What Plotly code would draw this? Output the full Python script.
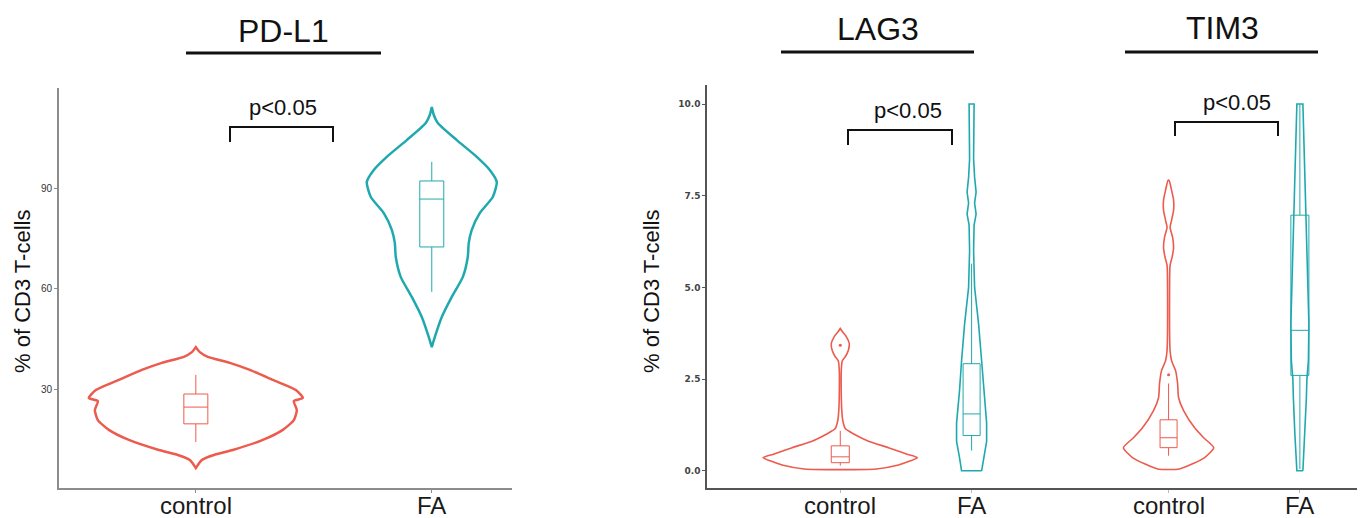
import plotly.graph_objects as go

W, H = 1363, 518

# ---------------- data ----------------
groups = ["control", "FA"]

# PD-L1 violin density profiles (value, relative density)
pdl1_ctrl_y = [6.4, 8.8, 10.3, 11.8, 14.8, 17.8, 20.7, 23.7, 26.4, 27.3, 29.7, 32.7, 35.7, 37.8, 39.6, 41.0, 42.5]
pdl1_ctrl_d = [0, 6, 18, 37, 67, 87, 98, 101, 98, 107, 100, 77, 54, 34, 12, 4, 0]
pdl1_fa_y = [42.5, 45.5, 51.5, 57.5, 63.4, 69.4, 73.6, 77.5, 82.5, 87.3, 91.8, 95.4, 99.3, 104.3, 109.4, 111.8, 114.2]
pdl1_fa_d = [0, 3, 10, 20, 31, 36, 37, 40, 48, 61, 65, 58, 45, 25, 6, 2, 0]
pdl1_box = {"control": [14.2, 19.6, 24.6, 28.5, 34.2], "FA": [59.0, 72.4, 86.7, 92.1, 97.8]}

# LAG3
lag3_ctrl_y = [0.05, 0.16, 0.27, 0.36, 0.46, 0.63, 0.82, 1.01, 1.15, 1.37, 1.64, 2.05, 2.73, 3.0, 3.11, 3.28, 3.47, 3.66, 3.80, 3.88]
lag3_ctrl_d = [36, 58, 70, 77, 66, 48, 27, 13, 5, 2.5, 1.5, 1, 1, 2, 5, 8, 9, 6, 2, 0]
lag3_fa_y = [0.0, 0.35, 0.8, 1.3, 2.2, 3.0, 4.0, 4.5, 5.0, 6.0, 6.7, 7.0, 7.3, 7.6, 8.0, 8.5, 9.5, 10.0]
lag3_fa_d = [10, 12, 15, 15, 12, 10, 7, 5, 3, 2, 2.5, 4.5, 3, 4.5, 3, 2, 2.5, 2.5]
lag3_box = {"control": [0.14, 0.22, 0.38, 0.68, 1.09], "FA": [0.55, 0.96, 1.55, 2.92, 5.65]}
lag3_outliers = {"control": [3.42]}

# TIM3
tim3_ctrl_y = [0.05, 0.19, 0.36, 0.63, 0.90, 1.17, 1.64, 1.99, 2.38, 2.73, 3.0, 3.28, 3.83, 4.92, 5.60, 5.82, 6.09, 6.37, 6.64, 6.83, 7.10, 7.38, 7.65, 7.92]
tim3_ctrl_d = [11, 24, 36, 45, 35, 26, 15, 10, 9, 7, 3, 1.5, 1, 1, 1.5, 3.5, 5, 4, 1.5, 3, 5, 5, 3, 0.5]
tim3_fa_y = [0.0, 0.5, 1.0, 1.5, 2.0, 2.5, 3.0, 4.0, 5.0, 6.0, 7.0, 7.5, 8.0, 8.5, 9.0, 9.5, 10.0]
tim3_fa_d = [3, 4, 5, 6, 6.5, 7, 8.5, 9, 8, 7, 6, 5.5, 5, 4.5, 4, 3.5, 3]
tim3_box = {"control": [0.41, 0.63, 0.90, 1.39, 2.38], "FA": [0.05, 2.60, 3.83, 6.97, 10.0]}
tim3_outliers = {"control": [2.62]}

y_title = "% of CD3 T-cells"
p_text = "p<0.05"

# ---------------- style ----------------
RED = "#EC5B4D"
TEAL = "#1FA9AE"
FONT = "Liberation Sans, Arial, sans-serif"

left_pos = {"control": 1, "FA": 2}
lag3_pos = {"control": 1, "FA": 2}
tim3_pos = {"control": 3.5, "FA": 4.5}

left_px_per_unit = 236.0
right_px_per_unit = 131.0

fig = go.Figure()


def violin(center, ys, ds, scale, color, width, xa, ya, shape="spline"):
    xr = [center + d * scale for d in ds]
    xl = [center - d * scale for d in ds]
    xs = xr + xl[::-1] + [xr[0]]
    yy = list(ys) + list(ys)[::-1] + [ys[0]]
    fig.add_trace(go.Scatter(x=xs, y=yy, mode="lines", xaxis=xa, yaxis=ya,
                             line=dict(color=color, width=width, shape=shape, smoothing=0.6),
                             hoverinfo="skip", showlegend=False))


def box(center, stats, bw, color, xa, ya):
    lo, q1, med, q3, hi = stats
    fig.add_trace(go.Box(x=[center], q1=[q1], median=[med], q3=[q3], lowerfence=[lo], upperfence=[hi],
                         width=bw, whiskerwidth=0, boxpoints=False, xaxis=xa, yaxis=ya,
                         line=dict(color=color, width=1), fillcolor="rgba(255,255,255,0)",
                         showlegend=False, hoverinfo="skip"))


sL = 1.0 / left_px_per_unit
violin(left_pos["control"], pdl1_ctrl_y, pdl1_ctrl_d, sL, RED, 2.5, "x", "y")
violin(left_pos["FA"], pdl1_fa_y, pdl1_fa_d, sL, TEAL, 2.5, "x", "y")
box(left_pos["control"], pdl1_box["control"], 24 * sL, RED, "x", "y")
box(left_pos["FA"], pdl1_box["FA"], 24 * sL, TEAL, "x", "y")

sR = 1.0 / right_px_per_unit
violin(lag3_pos["control"], lag3_ctrl_y, lag3_ctrl_d, sR, RED, 1.6, "x2", "y2")
violin(lag3_pos["FA"], lag3_fa_y, lag3_fa_d, sR, TEAL, 1.6, "x2", "y2", shape="linear")
violin(tim3_pos["control"], tim3_ctrl_y, tim3_ctrl_d, sR, RED, 1.6, "x2", "y2")
violin(tim3_pos["FA"], tim3_fa_y, tim3_fa_d, sR, TEAL, 1.6, "x2", "y2", shape="linear")
box(lag3_pos["control"], lag3_box["control"], 18 * sR, RED, "x2", "y2")
box(lag3_pos["FA"], lag3_box["FA"], 17 * sR, TEAL, "x2", "y2")
box(tim3_pos["control"], tim3_box["control"], 17 * sR, RED, "x2", "y2")
box(tim3_pos["FA"], tim3_box["FA"], 18 * sR, TEAL, "x2", "y2")

for pos, vals in [(lag3_pos["control"], lag3_outliers["control"]), (tim3_pos["control"], tim3_outliers["control"])]:
    fig.add_trace(go.Scatter(x=[pos] * len(vals), y=vals, mode="markers", xaxis="x2", yaxis="y2",
                             marker=dict(color=RED, size=3), showlegend=False, hoverinfo="skip"))


def px(xp):
    return xp / W


def py(yp):
    return 1 - yp / H


axis_common = dict(showgrid=False, zeroline=False, showline=True, ticks="outside", ticklen=3, automargin=False)

fig.update_layout(
    width=W, height=H, margin=dict(l=0, r=0, t=0, b=0, autoexpand=False),
    paper_bgcolor="white", plot_bgcolor="white", showlegend=False,
    xaxis=dict(domain=[px(59), px(512)], range=[0.42, 2.34], anchor="y",
               tickvals=[left_pos[g] for g in groups], showticklabels=False,
               linecolor="#8c8c8c", linewidth=2, tickcolor="#8c8c8c", **axis_common),
    yaxis=dict(domain=[py(488), py(88)], range=[0.45, 119.85], anchor="x",
               tickvals=[30, 60, 90], linecolor="#8c8c8c", linewidth=2, tickcolor="#8c8c8c",
               tickfont=dict(family="Liberation Sans Narrow, Arial Narrow, sans-serif", size=10, color="#333"),
               **axis_common),
    xaxis2=dict(domain=[px(707), px(1357)], range=[-0.015, 4.935], anchor="y2",
                tickvals=[lag3_pos["control"], lag3_pos["FA"], tim3_pos["control"], tim3_pos["FA"]],
                showticklabels=False, linecolor="#555", linewidth=1.5, tickcolor="#bbb", **axis_common),
    yaxis2=dict(domain=[py(488), py(85)], range=[-0.47, 10.52], anchor="x2",
                tickvals=[0, 2.5, 5, 7.5, 10], ticktext=["0.0", "2.5", "5.0", "7.5", "10.0"],
                linecolor="#555", linewidth=1.5, tickcolor="#555",
                tickfont=dict(family="DejaVu Sans, sans-serif", size=9, color="#444", weight="bold"),
                **axis_common),
)

anns = []
# category labels (placed at the category positions of each x axis)
for xref, posmap in [("x", left_pos), ("x2", lag3_pos), ("x2", tim3_pos)]:
    for g in groups:
        anns.append(dict(text=g, x=posmap[g], y=py(505), xref=xref, yref="paper", showarrow=False,
                         xanchor="center", yanchor="middle", font=dict(family=FONT, size=24, color="#1a1a1a")))
for txt, cx, cy in [("PD-L1", 283, 31), ("LAG3", 878, 29), ("TIM3", 1222, 28)]:
    anns.append(dict(text=txt, x=px(cx), y=py(cy), xref="paper", yref="paper", showarrow=False,
                     xanchor="center", yanchor="middle", font=dict(family=FONT, size=32, color="#111")))
for cx, cy in [(283, 107), (908, 110), (1237, 103)]:
    anns.append(dict(text=p_text, x=px(cx), y=py(cy), xref="paper", yref="paper", showarrow=False,
                     xanchor="center", yanchor="middle", font=dict(family=FONT, size=22, color="#111")))
for cx, cy in [(22, 292), (651, 292)]:
    anns.append(dict(text=y_title, x=px(cx), y=py(cy), xref="paper", yref="paper", showarrow=False,
                     textangle=-90, xanchor="center", yanchor="middle",
                     font=dict(family=FONT, size=22, color="#111")))
fig.update_layout(annotations=anns)

shapes = []
for x0, x1, yy in [(186, 381, 53), (781, 974, 52), (1125, 1318, 52)]:
    shapes.append(dict(type="line", xref="paper", yref="paper", x0=px(x0), x1=px(x1), y0=py(yy), y1=py(yy),
                       line=dict(color="#111", width=3)))
for x0, x1, ytop, ybot in [(230, 333, 127, 142), (848, 952, 130, 145), (1175, 1278, 122, 136)]:
    path = f"M {px(x0)} {py(ybot)} L {px(x0)} {py(ytop)} L {px(x1)} {py(ytop)} L {px(x1)} {py(ybot)}"
    shapes.append(dict(type="path", xref="paper", yref="paper", path=path,
                       line=dict(color="#111", width=2)))
fig.update_layout(shapes=shapes)

fig.write_html("out.html")
